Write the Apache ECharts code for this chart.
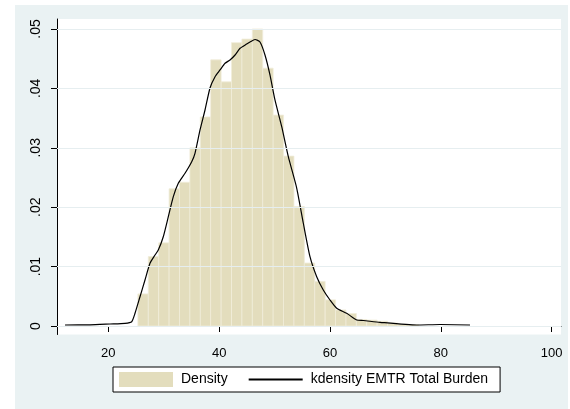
<!DOCTYPE html>
<html>
<head>
<meta charset="utf-8">
<script src="https://cdn.jsdelivr.net/npm/echarts@6/dist/echarts.min.js"></script>
<style>
body{margin:0;background:#fff;}
#bg{position:absolute;left:15px;top:5px;width:553px;height:404px;background:#eaf2f3;}
#main{position:absolute;left:0;top:0;width:570px;height:409px;}
</style>
</head>
<body>
<div id="bg"></div>
<div id="main"></div>
<script>
// histogram bins (start, width) and bar densities
var binStart = 25.34;
var binWidth = 1.877;
var density = [0.0054,0.0117,0.0140,0.0231,0.0242,0.0300,0.0352,0.0448,0.0411,0.0477,
	0.0483,0.0500,0.0434,0.0355,0.0286,0.0201,0.0106,0.0075,0.0044,0.0027,
	0.0021,0.0011,0.0010,0.0008,0.0005,0.0003,0.0002];

// kernel density curve
var kdX = [12.19,16.70,20.31,23.01,24.22,24.82,25.72,26.62,27.52,28.43,29.02,29.92,30.83,31.73,32.63,
	33.84,35.05,35.64,36.55,37.45,38.35,39.26,40.16,41.06,41.96,42.87,43.77,44.97,45.57,46.47,
	47.37,48.27,49.17,50.07,51.29,52.48,53.99,55.18,56.39,57.60,58.79,60.00,61.21,63.01,64.82,
	66.01,69.02,75.64,79.85,85.26];
var kdY = [0.00017,0.00020,0.00034,0.00045,0.00072,0.00214,0.00493,0.00774,0.01056,0.01195,0.01279,0.01503,0.0184,0.02177,0.02402,
	0.02571,0.02766,0.02907,0.0330,0.03636,0.04007,0.04197,0.0431,0.04423,0.04478,0.04562,0.04675,0.04747,0.04781,0.04823,
	0.04781,0.04562,0.04226,0.03805,0.03355,0.0285,0.02323,0.01734,0.01167,0.0083,0.00606,0.00438,0.00298,0.00214,0.00101,
	0.00093,0.00062,0.00017,0.00025,0.00017];

var xTicks = [20,40,60,80,100];
var yTicks = [0,0.01,0.02,0.03,0.04,0.05];
var yTickLabels = ['0','.01','.02','.03','.04','.05'];

var barData = [];
density.forEach(function(d, i){
	barData.push([binStart + i*binWidth, binStart + (i+1)*binWidth, d]);
});
var lineData = [];
kdX.forEach(function(x, i){
	lineData.push([x, kdY[i]]);
});
var gridData = [];
yTicks.forEach(function(v){
	gridData.push({yAxis: v});
});

var myChart = echarts.init(document.getElementById('main'));
var option = {
	animation: false,
	textStyle: {fontFamily: 'Liberation Sans, Arial, sans-serif'},
	grid: {
		left: 57, top: 19, right: 9, bottom: 74.5,
		show: true, backgroundColor: '#ffffff', borderWidth: 0
	},
	xAxis: {
		type: 'value',
		min: 10.744, max: 101.68,
		axisLine: {show: true, lineStyle: {color: '#000', width: 1}},
		axisTick: {show: true, length: 6, customValues: xTicks, lineStyle: {color: '#000'}},
		axisLabel: {customValues: xTicks, color: '#000', fontSize: 13, margin: 12},
		splitLine: {show: false}
	},
	yAxis: {
		type: 'value',
		min: -0.00143, max: 0.05168,
		axisLine: {show: true, lineStyle: {color: '#000', width: 1}},
		axisTick: {show: true, length: 6, customValues: yTicks, lineStyle: {color: '#000'}},
		axisLabel: {
			customValues: yTicks, color: '#000', fontSize: 14, rotate: 90, margin: 14,
			formatter: function(v){
				var idx = 0;
				yTicks.forEach(function(t, i){ if (Math.abs(t - v) < 1e-9) idx = i; });
				return yTickLabels[idx];
			}
		},
		splitLine: {show: false}
	},
	legend: {
		left: 113, top: 367,
		orient: 'horizontal',
		backgroundColor: '#ffffff',
		borderColor: '#000', borderWidth: 1,
		padding: [5, 12, 5, 6],
		itemWidth: 54, itemHeight: 15, itemGap: 20,
		textStyle: {color: '#000', fontSize: 14, padding: [0, 0, 0, 3]},
		data: [
			{name: 'Density', icon: 'rect'},
			{name: 'kdensity EMTR Total Burden', itemStyle: {opacity: 0}}
		]
	},
	series: [
		{
			name: 'grid',
			type: 'line',
			data: [],
			z: 1,
			silent: true,
			markLine: {
				silent: true,
				symbol: 'none',
				label: {show: false},
				lineStyle: {color: '#e6eef0', width: 1, type: 'solid'},
				data: gridData
			}
		},
		{
			name: 'Density',
			type: 'custom',
			z: 2,
			itemStyle: {color: '#e3ddbd'},
			renderItem: function(params, api){
				var p0 = api.coord([api.value(0), api.value(2)]);
				var p1 = api.coord([api.value(1), 0]);
				return {
					type: 'rect',
					shape: {x: p0[0], y: p0[1], width: p1[0] - p0[0], height: p1[1] - p0[1]},
					style: {fill: '#e3ddbd', stroke: '#f0ecd9', lineWidth: 0.8}
				};
			},
			encode: {x: [0, 1], y: 2},
			data: barData
		},
		{
			name: 'kdensity EMTR Total Burden',
			type: 'line',
			z: 3,
			symbol: 'none',
			showSymbol: false,
			smooth: 0.2,
			lineStyle: {color: '#000', width: 1.2},
			itemStyle: {color: '#000'},
			data: lineData
		}
	]
};
myChart.setOption(option);
</script>
</body>
</html>
